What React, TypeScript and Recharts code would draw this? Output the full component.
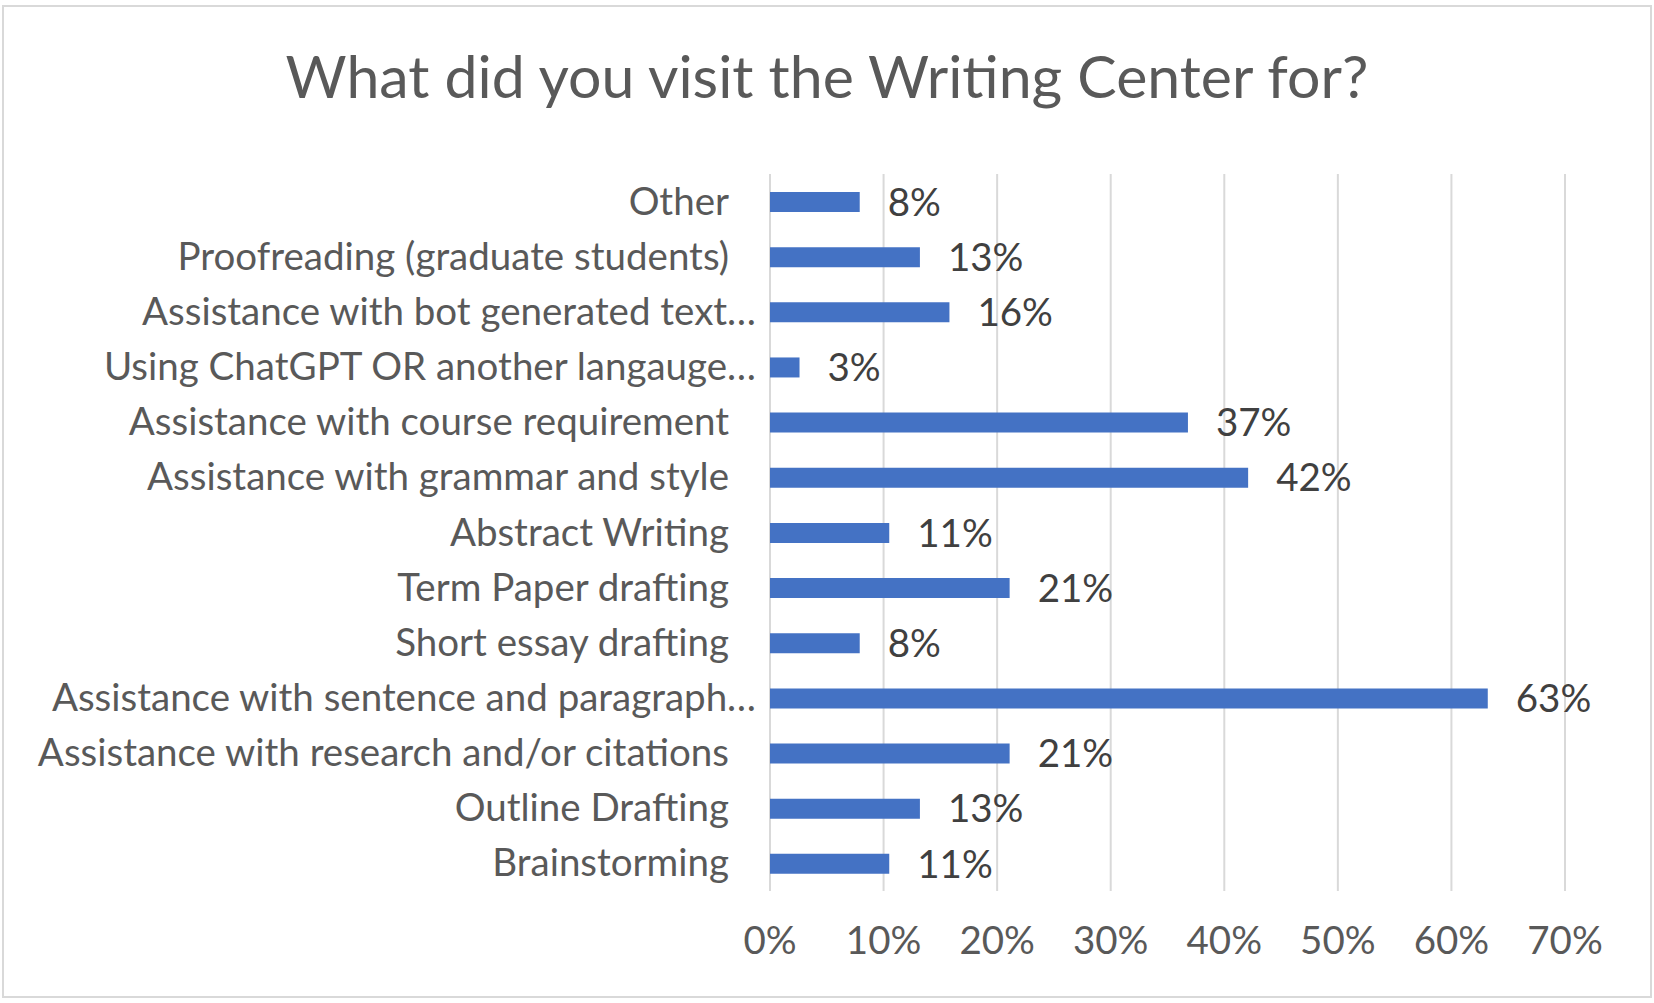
import { BarChart, Bar, XAxis, YAxis, CartesianGrid, LabelList } from 'recharts';

const categories = [
  'Other',
  'Proofreading (graduate students)',
  'Assistance with bot generated text…',
  'Using ChatGPT OR another langauge…',
  'Assistance with course requirement',
  'Assistance with grammar and style',
  'Abstract Writing',
  'Term Paper drafting',
  'Short essay drafting',
  'Assistance with sentence and paragraph…',
  'Assistance with research and/or citations',
  'Outline Drafting',
  'Brainstorming',
];

const shares = [0.079, 0.132, 0.158, 0.026, 0.368, 0.421, 0.105, 0.211, 0.079, 0.632, 0.211, 0.132, 0.105];

const xTicks = [0, 0.1, 0.2, 0.3, 0.4, 0.5, 0.6, 0.7];

const data = categories.map((name, i) => ({ name, value: shares[i] }));

const FONT = 'Lato, "Open Sans", sans-serif';
const pct = (v: number) => `${Math.round(v * 100)}%`;

function CategoryTick(props: any) {
  const { x, y, payload } = props;
  const label: string = payload.value;
  // labels cut off with an ellipsis sit a bit closer to the axis
  const shift = label.endsWith('…') ? 0 : 27;
  return (
    <text
      x={x - shift}
      y={y - 2}
      textAnchor="end"
      dominantBaseline="central"
      fill="#595959"
      fontSize={38.5}
      fontFamily={FONT}
    >
      {label}
    </text>
  );
}

function PercentTick(props: any) {
  const { x, y, payload } = props;
  return (
    <text x={x} y={y + 55} textAnchor="middle" fill="#595959" fontSize={38.5} fontFamily={FONT}>
      {pct(payload.value)}
    </text>
  );
}

export default function App() {
  return (
    <div style={{ position: 'absolute', left: 0, top: 0, width: 1654, height: 1003, background: '#fff' }}>
      <div
        style={{
          position: 'absolute',
          left: 2,
          top: 5,
          width: 1650,
          height: 993,
          border: '2px solid #d9d9d9',
          boxSizing: 'border-box',
        }}
      />
      <div
        style={{
          position: 'absolute',
          left: 0,
          width: 1654,
          top: 46,
          textAlign: 'center',
          fontFamily: FONT,
          fontSize: 59,
          lineHeight: '60px',
          color: '#595959',
        }}
      >
        What did you visit the Writing Center for?
      </div>
      <div style={{ position: 'absolute', left: 0, top: 0 }}>
        <BarChart
          width={1654}
          height={1003}
          data={data}
          layout="vertical"
          margin={{ top: 174, right: 89, bottom: 0, left: 10 }}
          barSize={20}
        >
          <CartesianGrid horizontal={false} stroke="#d9d9d9" strokeWidth={2} />
          <XAxis
            type="number"
            domain={[0, 0.7]}
            ticks={xTicks}
            axisLine={false}
            tickLine={false}
            height={112}
            tick={<PercentTick />}
            interval={0}
          />
          <YAxis
            type="category"
            dataKey="name"
            width={760}
            axisLine={false}
            tickLine={false}
            tickSize={0}
            tickMargin={14}
            interval={0}
            tick={<CategoryTick />}
          />
          <Bar dataKey="value" fill="#4472C4" isAnimationActive={false}>
            <LabelList
              dataKey="value"
              position="right"
              offset={28}
              formatter={(v: any) => pct(Number(v))}
              fill="#404040"
              fontSize={38.5}
              fontFamily={FONT}
            />
          </Bar>
        </BarChart>
      </div>
    </div>
  );
}
